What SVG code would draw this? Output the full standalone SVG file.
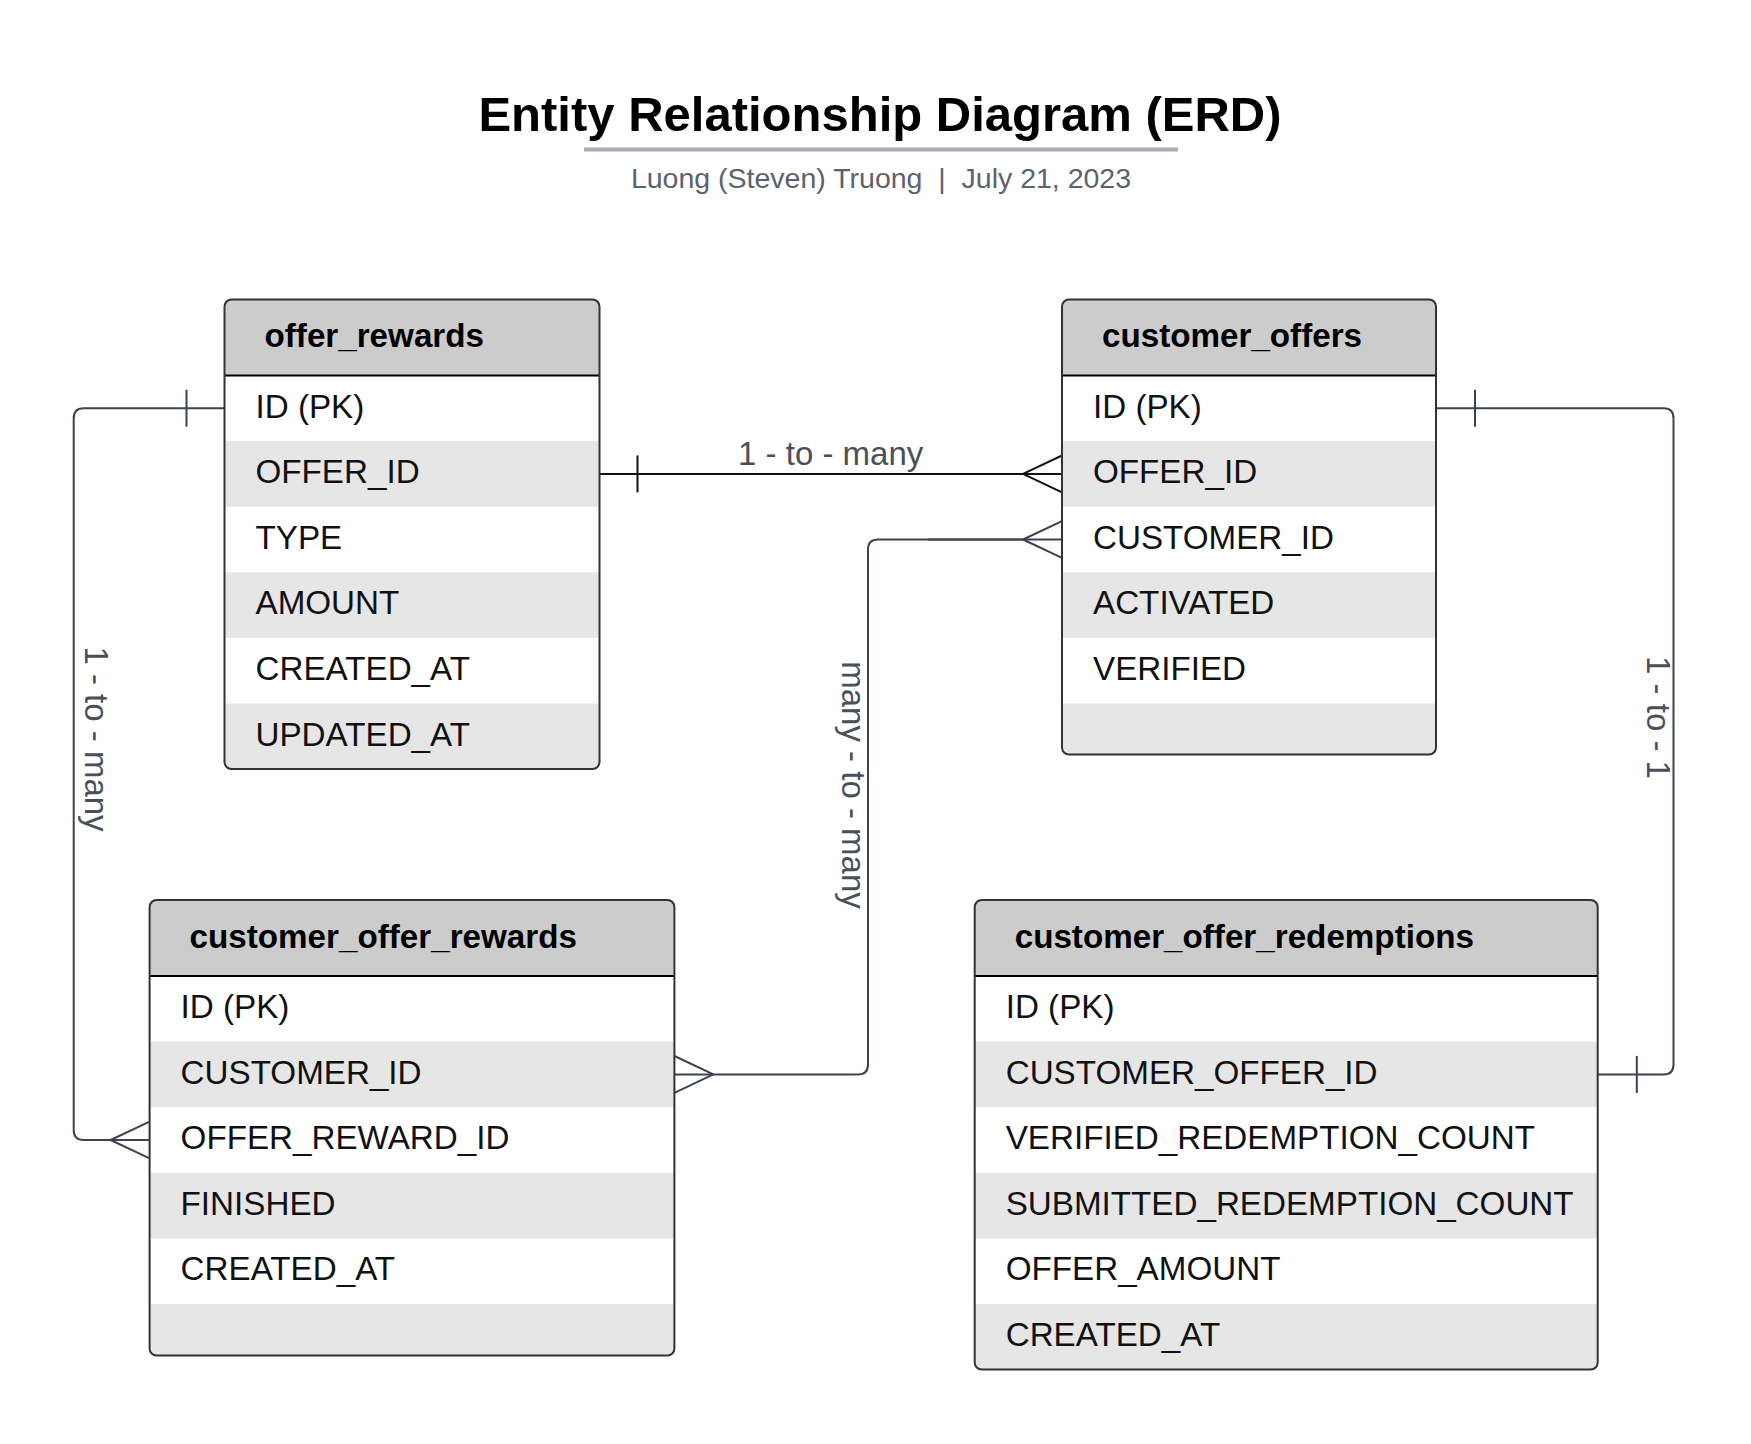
<svg xmlns="http://www.w3.org/2000/svg" width="1751" height="1444" viewBox="0 0 1751 1444">
<style>
.bg{fill:#ffffff}
.hdr{fill:#cccccc}
.alt{fill:#e6e6e6}
.box{fill:none;stroke:#333333;stroke-width:2}
.sep{stroke:#000000;stroke-width:2}
.ht{font-family:"Liberation Sans",Arial,sans-serif;font-weight:bold;font-size:33.2px;fill:#000000}
.ft{font-family:"Liberation Sans",Arial,sans-serif;font-size:33.2px;fill:#111111}
.conn{fill:none;stroke:#3d434e;stroke-width:2}
.conn1{fill:none;stroke:#111111;stroke-width:2}
.lbl{font-family:"Liberation Sans",Arial,sans-serif;font-size:33px;fill:#4a505a;text-anchor:middle}
</style>
<defs>
<clipPath id="c1"><rect x="224.5" y="299.5" width="375" height="469.6" rx="7"/></clipPath>
<clipPath id="c2"><rect x="1062" y="299.5" width="374" height="455" rx="7"/></clipPath>
<clipPath id="c3"><rect x="149.6" y="900" width="524.8" height="455.5" rx="7"/></clipPath>
<clipPath id="c4"><rect x="974.7" y="900" width="623" height="469.6" rx="7"/></clipPath>
</defs>
<rect width="1751" height="1444" fill="#ffffff"/>

<g id="title">
<text x="880" y="131" text-anchor="middle" font-family="'Liberation Sans',Arial,sans-serif" font-weight="bold" font-size="49" fill="#000000">Entity Relationship Diagram (ERD)</text>
<line x1="584" y1="149.5" x2="1178" y2="149.5" stroke="#a5acb6" stroke-width="4"/>
<text x="881" y="187.6" text-anchor="middle" xml:space="preserve" font-family="'Liberation Sans',Arial,sans-serif" font-size="28.5" fill="#5b6270">Luong (Steven) Truong  |  July 21, 2023</text>
</g>

<g id="connectors">
<!-- offer_rewards.OFFER_ID to customer_offers.OFFER_ID -->
<path class="conn1" d="M599.5,473.9 H1062"/>
<path class="conn1" d="M637.5,455.4 V492.4"/>
<path class="conn1" d="M1023,473.9 L1062,455.5 M1023,473.9 L1062,492.3"/>
<text class="lbl" x="830.7" y="464.5">1 - to - many</text>

<!-- customer_offers.CUSTOMER_ID to customer_offer_rewards.CUSTOMER_ID -->
<path class="conn" d="M1062,539.5 H878 Q868,539.5 868,549.5 V1064.4 Q868,1074.4 858,1074.4 H674.4"/>
<path class="conn" d="M928,539.5 H1023" stroke="#30353e"/>
<path class="conn" d="M1023,539.5 L1062,521.1 M1023,539.5 L1062,557.9"/>
<path class="conn" d="M713.4,1074.4 L674.4,1056 M713.4,1074.4 L674.4,1092.8"/>
<text class="lbl" transform="translate(842,785) rotate(90)">many - to - many</text>

<!-- offer_rewards.ID to customer_offer_rewards.OFFER_REWARD_ID -->
<path class="conn" d="M224.5,408.3 H83.7 Q73.7,408.3 73.7,418.3 V1130 Q73.7,1140 83.7,1140 H149.6"/>
<path class="conn" d="M186.5,389.8 V426.8"/>
<path class="conn" d="M110.6,1140 L149.6,1121.6 M110.6,1140 L149.6,1158.4"/>
<text class="lbl" transform="translate(85,739) rotate(90)">1 - to - many</text>

<!-- customer_offers.ID to customer_offer_redemptions.CUSTOMER_OFFER_ID -->
<path class="conn" d="M1436,408.3 H1663.5 Q1673.5,408.3 1673.5,418.3 V1064.4 Q1673.5,1074.4 1663.5,1074.4 H1597.7"/>
<path class="conn" d="M1475,389.8 V426.8"/>
<path class="conn" d="M1636.8,1055.9 V1092.9"/>
<text class="lbl" transform="translate(1647,717.5) rotate(90)">1 - to - 1</text>
</g>

<g id="offer_rewards">
<g clip-path="url(#c1)">
<rect class="bg" x="224.5" y="299.5" width="375" height="469.6"/>
<rect class="hdr" x="224.5" y="299.5" width="375" height="76"/>
<rect class="alt" x="224.5" y="441.1" width="375" height="65.6"/>
<rect class="alt" x="224.5" y="572.3" width="375" height="65.6"/>
<rect class="alt" x="224.5" y="703.5" width="375" height="65.6"/>
</g>
<line class="sep" x1="224.5" y1="375.5" x2="599.5" y2="375.5"/>
<rect class="box" x="224.5" y="299.5" width="375" height="469.6" rx="7"/>
<text class="ht" x="264.5" y="347">offer_rewards</text>
<text class="ft" x="255.5" y="417.5">ID (PK)</text>
<text class="ft" x="255.5" y="483.1">OFFER_ID</text>
<text class="ft" x="255.5" y="548.7">TYPE</text>
<text class="ft" x="255.5" y="614.3">AMOUNT</text>
<text class="ft" x="255.5" y="679.9">CREATED_AT</text>
<text class="ft" x="255.5" y="745.5">UPDATED_AT</text>
</g>

<g id="customer_offers">
<g clip-path="url(#c2)">
<rect class="bg" x="1062" y="299.5" width="374" height="455"/>
<rect class="hdr" x="1062" y="299.5" width="374" height="76"/>
<rect class="alt" x="1062" y="441.1" width="374" height="65.6"/>
<rect class="alt" x="1062" y="572.3" width="374" height="65.6"/>
<rect class="alt" x="1062" y="703.5" width="374" height="51"/>
</g>
<line class="sep" x1="1062" y1="375.5" x2="1436" y2="375.5"/>
<rect class="box" x="1062" y="299.5" width="374" height="455" rx="7"/>
<text class="ht" x="1102" y="347">customer_offers</text>
<text class="ft" x="1093" y="417.5">ID (PK)</text>
<text class="ft" x="1093" y="483.1">OFFER_ID</text>
<text class="ft" x="1093" y="548.7">CUSTOMER_ID</text>
<text class="ft" x="1093" y="614.3">ACTIVATED</text>
<text class="ft" x="1093" y="679.9">VERIFIED</text>
</g>

<g id="customer_offer_rewards">
<g clip-path="url(#c3)">
<rect class="bg" x="149.6" y="900" width="524.8" height="455.5"/>
<rect class="hdr" x="149.6" y="900" width="524.8" height="76"/>
<rect class="alt" x="149.6" y="1041.6" width="524.8" height="65.6"/>
<rect class="alt" x="149.6" y="1172.8" width="524.8" height="65.6"/>
<rect class="alt" x="149.6" y="1304" width="524.8" height="51.5"/>
</g>
<line class="sep" x1="149.6" y1="976" x2="674.4" y2="976"/>
<rect class="box" x="149.6" y="900" width="524.8" height="455.5" rx="7"/>
<text class="ht" x="189.6" y="947.5">customer_offer_rewards</text>
<text class="ft" x="180.6" y="1018">ID (PK)</text>
<text class="ft" x="180.6" y="1083.6">CUSTOMER_ID</text>
<text class="ft" x="180.6" y="1149.2">OFFER_REWARD_ID</text>
<text class="ft" x="180.6" y="1214.8">FINISHED</text>
<text class="ft" x="180.6" y="1280.4">CREATED_AT</text>
</g>

<g id="customer_offer_redemptions">
<g clip-path="url(#c4)">
<rect class="bg" x="974.7" y="900" width="623" height="469.6"/>
<rect class="hdr" x="974.7" y="900" width="623" height="76"/>
<rect class="alt" x="974.7" y="1041.6" width="623" height="65.6"/>
<rect class="alt" x="974.7" y="1172.8" width="623" height="65.6"/>
<rect class="alt" x="974.7" y="1304" width="623" height="65.6"/>
</g>
<line class="sep" x1="974.7" y1="976" x2="1597.7" y2="976"/>
<rect class="box" x="974.7" y="900" width="623" height="469.6" rx="7"/>
<text class="ht" x="1014.7" y="947.5">customer_offer_redemptions</text>
<text class="ft" x="1005.7" y="1018">ID (PK)</text>
<text class="ft" x="1005.7" y="1083.6">CUSTOMER_OFFER_ID</text>
<text class="ft" x="1005.7" y="1149.2">VERIFIED_REDEMPTION_COUNT</text>
<text class="ft" x="1005.7" y="1214.8">SUBMITTED_REDEMPTION_COUNT</text>
<text class="ft" x="1005.7" y="1280.4">OFFER_AMOUNT</text>
<text class="ft" x="1005.7" y="1346">CREATED_AT</text>
</g>
</svg>
